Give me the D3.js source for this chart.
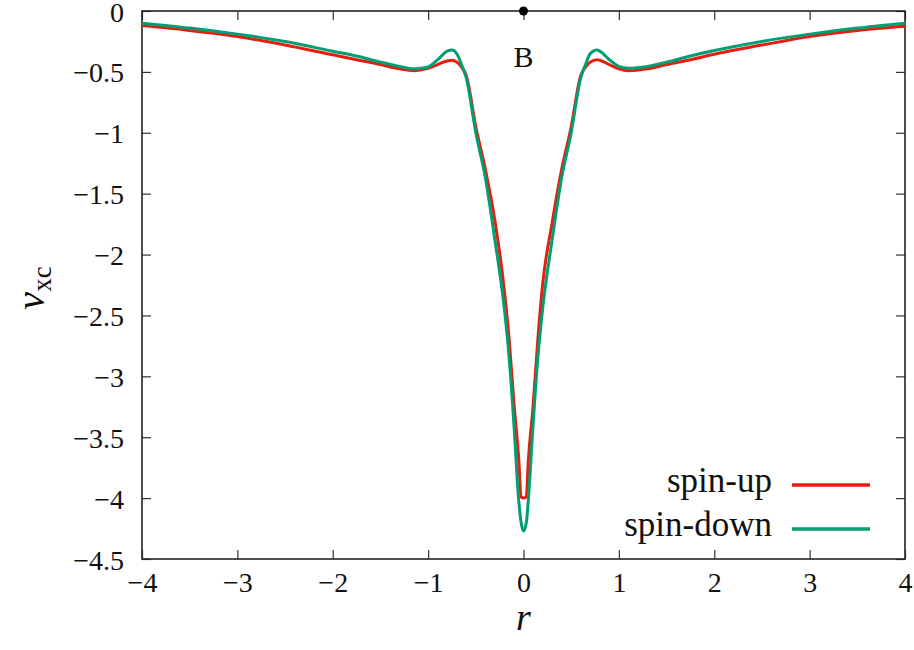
<!DOCTYPE html>
<html>
<head>
<meta charset="utf-8">
<script src="https://cdn.jsdelivr.net/npm/d3@7"></script>
<style>
  body { margin: 0; background: #fff; }
  svg { display: block; }
  svg text { font-family: "Liberation Serif", "DejaVu Serif", serif; }
</style>
</head>
<body>
<div id="chart"></div>
<script>
// values
const rValues = [-4, -3.5, -3, -2.5, -2, -1.75, -1.5, -1.3, -1.15, -1.0, -0.9, -0.8, -0.75, -0.7, -0.65, -0.6, -0.5, -0.4, -0.3, -0.2, -0.15, -0.1, -0.05, -0.025, 0, 0.03, 0.05, 0.1, 0.15, 0.2, 0.3, 0.4, 0.5, 0.6, 0.65, 0.7, 0.77, 0.8, 0.9, 1.0, 1.1, 1.3, 1.5, 1.75, 2, 2.5, 3, 3.5, 4];
const spinUp = [-0.12, -0.16, -0.21, -0.28, -0.36, -0.40, -0.44, -0.475, -0.49, -0.47, -0.44, -0.41, -0.405, -0.42, -0.46, -0.53, -0.95, -1.3, -1.72, -2.3, -2.7, -3.22, -3.68, -3.99, -4.0, -3.99, -3.7, -3.25, -2.7, -2.25, -1.74, -1.3, -0.95, -0.53, -0.46, -0.42, -0.40, -0.405, -0.44, -0.475, -0.49, -0.475, -0.44, -0.40, -0.355, -0.28, -0.21, -0.16, -0.125];
const spinDown = [-0.10, -0.14, -0.19, -0.25, -0.33, -0.37, -0.42, -0.455, -0.475, -0.46, -0.40, -0.33, -0.32, -0.35, -0.44, -0.55, -1.0, -1.37, -1.88, -2.45, -2.85, -3.4, -4.02, -4.2, -4.27, -4.2, -4.02, -3.4, -2.85, -2.45, -1.88, -1.37, -1.0, -0.55, -0.44, -0.35, -0.32, -0.33, -0.40, -0.455, -0.47, -0.455, -0.42, -0.37, -0.325, -0.25, -0.19, -0.14, -0.10];
const seriesNames = ["spin-up", "spin-down"];
const seriesColors = ["#e51e10", "#009e73"];
const xTicks = [-4, -3, -2, -1, 0, 1, 2, 3, 4];
const yTicks = [0, -0.5, -1, -1.5, -2, -2.5, -3, -3.5, -4, -4.5];
const markPoint = { r: 0, v: 0, label: "B" };

const serif = '"Liberation Serif", "DejaVu Serif", serif';
const W = 914, H = 650;
const margin = { top: 11, right: 9, bottom: 91, left: 142 };
const iw = W - margin.left - margin.right;
const ih = H - margin.top - margin.bottom;

const svg = d3.select("#chart").append("svg").attr("width", W).attr("height", H);
const g = svg.append("g").attr("transform", `translate(${margin.left},${margin.top})`);

const x = d3.scaleLinear().domain([-4, 4]).range([0, iw]);
const y = d3.scaleLinear().domain([-4.5, 0]).range([ih, 0]);
const fmt = d3.format("");

// ticks on all four sides, pointing inward
const tickLen = 9;
const axisStyle = sel => {
  sel.attr("font-family", null).attr("font-size", 28);
  sel.select(".domain").remove();
  sel.selectAll("line").attr("stroke", "#333").attr("stroke-width", 1.2);
  sel.selectAll("text").attr("fill", "#111").style("font-family", serif);
};
g.append("g").attr("transform", `translate(0,${ih})`)
  .call(d3.axisBottom(x).tickValues(xTicks).tickSize(-tickLen).tickFormat(fmt).tickPadding(13))
  .call(axisStyle);
g.append("g")
  .call(d3.axisTop(x).tickValues(xTicks).tickSize(-tickLen).tickFormat(""))
  .call(axisStyle);
g.append("g")
  .call(d3.axisLeft(y).tickValues(yTicks).tickSize(-tickLen).tickFormat(fmt).tickPadding(18))
  .call(axisStyle)
  .call(a => a.selectAll("text").attr("dy", "0.36em"));
g.append("g").attr("transform", `translate(${iw},0)`)
  .call(d3.axisRight(y).tickValues(yTicks).tickSize(-tickLen).tickFormat(""))
  .call(axisStyle);

g.append("rect").attr("width", iw).attr("height", ih)
  .attr("fill", "none").attr("stroke", "#222").attr("stroke-width", 1.6);

// curves
const line = d3.line().x(d => x(d[0])).y(d => y(d[1])).curve(d3.curveMonotoneX);
[spinUp, spinDown].forEach((vals, i) => {
  g.append("path")
    .datum(rValues.map((r, k) => [r, vals[k]]))
    .attr("d", line)
    .attr("fill", "none")
    .attr("stroke", seriesColors[i])
    .attr("stroke-width", 3)
    .attr("stroke-linejoin", "round");
});

// marked point
g.append("circle").attr("cx", x(markPoint.r)).attr("cy", y(markPoint.v)).attr("r", 4.5).attr("fill", "#000");
g.append("text").attr("x", x(markPoint.r)).attr("y", y(markPoint.v) + 56)
  .attr("text-anchor", "middle").attr("font-size", 30).attr("fill", "#111").text(markPoint.label);

// legend
seriesNames.forEach((name, i) => {
  const ly = 474 + i * 44;
  g.append("text").attr("x", 772 - margin.left).attr("y", ly + 8 - margin.top + 10)
    .attr("text-anchor", "end").attr("font-size", 35).attr("fill", "#111").text(name);
  g.append("line")
    .attr("x1", 792 - margin.left).attr("x2", 870 - margin.left)
    .attr("y1", ly + 11 - margin.top).attr("y2", ly + 11 - margin.top)
    .attr("stroke", seriesColors[i]).attr("stroke-width", 3.5);
});

// axis titles
svg.append("text").attr("x", margin.left + x(0)).attr("y", 630)
  .attr("text-anchor", "middle").attr("font-size", 38).attr("font-style", "italic").attr("fill", "#111").text("r");
const yl = svg.append("text").attr("transform", "translate(44,288) rotate(-90)")
  .attr("text-anchor", "middle").attr("fill", "#111");
yl.append("tspan").attr("font-size", 40).attr("font-style", "italic").text("v");
yl.append("tspan").attr("font-size", 27).attr("dy", 7).text("xc");
</script>
</body>
</html>
